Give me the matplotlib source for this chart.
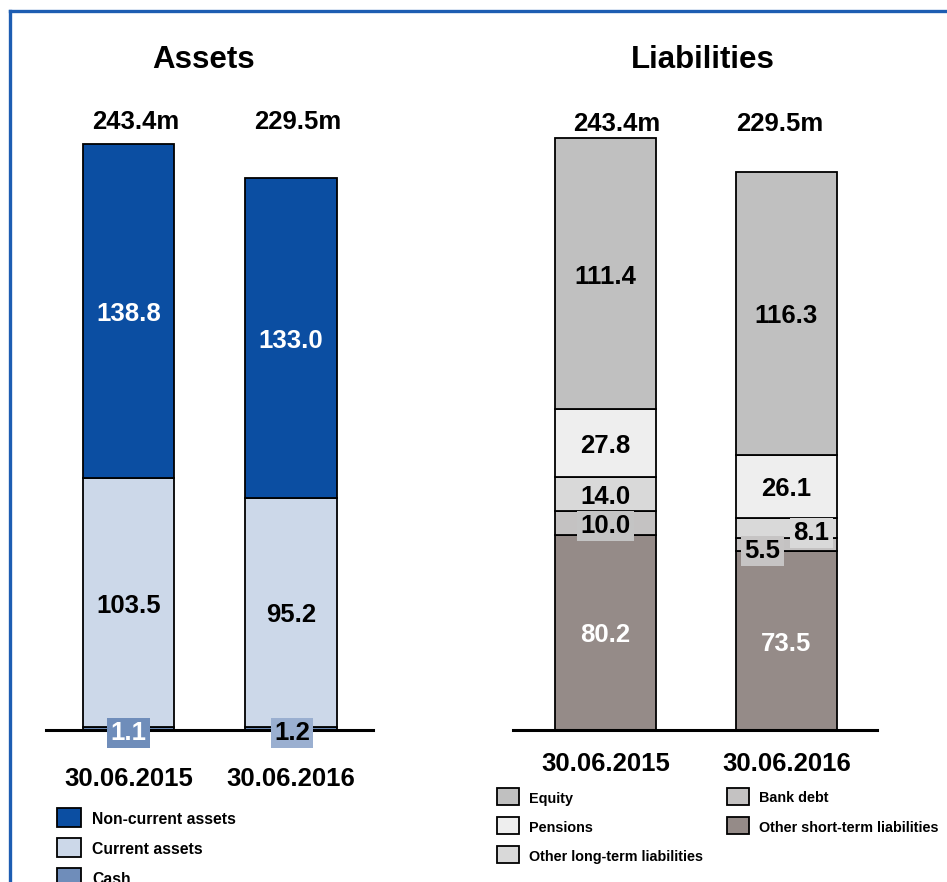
import matplotlib
matplotlib.use("Agg")
import matplotlib.pyplot as plt
from matplotlib.patches import Rectangle
from matplotlib.lines import Line2D

plt.rcParams["font.family"] = ["Liberation Sans", "DejaVu Sans"]
plt.rcParams["font.weight"] = "bold"

# ----- data ---------------------------------------------------------

dates = ["30.06.2015", "30.06.2016"]

asset_names = ["Cash", "Current assets", "Non-current assets"]
cash = [1.1, 1.2]
current_assets = [103.5, 95.2]
non_current_assets = [138.8, 133.0]

liab_names = ["Other short-term liabilities", "Bank debt",
              "Other long-term liabilities", "Pensions", "Equity"]
other_short_term = [80.2, 73.5]
bank_debt = [10.0, 5.5]
other_long_term = [14.0, 8.1]
pensions = [27.8, 26.1]
equity = [111.4, 116.3]

totals = [243.4, 229.5]

# ----- style --------------------------------------------------------

W, H = 947, 882
asset_colors = ["#6F8DBA", "#CCD8E9", "#0B4EA2"]
liab_colors = ["#958B88", "#C4C2C2", "#D9D9D9", "#EEEEEE", "#C0C0C0"]
VAL_FS = 18.5


def fx(px):
    return px / W


def fy(py):
    return 1 - py / H


fig = plt.figure(figsize=(W / 100, H / 100), dpi=100)

# blue frame (cut off on right and bottom)
fig.add_artist(Line2D([fx(10), fx(10)], [fy(11), 0], color="#1D5DB2", lw=2.4,
                      transform=fig.transFigure))
fig.add_artist(Line2D([fx(10), 1], [fy(11), fy(11)], color="#1D5DB2", lw=2.4,
                      transform=fig.transFigure))


def make_ax(left, right, px_per_unit):
    ax = fig.add_axes([fx(left), fy(730), fx(right - left), 250 * px_per_unit / H])
    ax.set_ylim(0, 250)
    ax.axis("off")
    ax.axhline(0, color="black", lw=2.2, zorder=3, clip_on=False)
    return ax


def stack(ax, series, colors, width):
    x = [0, 1]
    bottom = [0, 0]
    mids = []
    for vals, col in zip(series, colors):
        ax.bar(x, vals, width, bottom=bottom, color=col, edgecolor="black",
               linewidth=1.3, zorder=2)
        mids.append([b + v / 2 for b, v in zip(bottom, vals)])
        bottom = [b + v for b, v in zip(bottom, vals)]
    return mids


def label(ax, x, y, txt, color="black", bg=None, dx=0, dy=0):
    # dx, dy in pixels (dy positive = down); +3 px corrects va="center"
    kw = {}
    if bg is not None:
        kw["bbox"] = dict(boxstyle="square,pad=0.12", fc=bg, ec="none")
    ax.annotate(txt, (x, y), xytext=(dx * 0.72, -(dy + 3) * 0.72),
                textcoords="offset points", ha="center", va="center",
                fontsize=VAL_FS, fontweight="bold", color=color,
                annotation_clip=False, zorder=5, **kw)


# ----- assets -------------------------------------------------------

ax1 = make_ax(46, 373, 2.408)
ax1.set_xlim(-0.508, 1.505)
amids = stack(ax1, [cash, current_assets, non_current_assets], asset_colors, 0.563)

for i in range(2):
    label(ax1, i, amids[2][i], f"{non_current_assets[i]:.1f}", color="white")
    label(ax1, i, amids[1][i], f"{current_assets[i]:.1f}")
label(ax1, 0, 0, f"{cash[0]:.1f}", color="white", bg="#6F8DBA")
label(ax1, 1, 0, f"{cash[1]:.1f}", color="black", bg="#9AAFD0", dx=1)

for i, dx in enumerate([7.5, 7]):
    label(ax1, i, 250, f"{totals[i]:.1f}m", dx=dx, dy=-9)
    label(ax1, i, 0, dates[i], dy=46)

# ----- liabilities --------------------------------------------------

ax2 = make_ax(513, 877, 2.432)
ax2.set_xlim(-0.511, 1.5)
lmids = stack(ax2, [other_short_term, bank_debt, other_long_term, pensions, equity],
              liab_colors, 0.558)

for i in range(2):
    label(ax2, i, lmids[0][i], f"{other_short_term[i]:.1f}", color="white")
    label(ax2, i, lmids[3][i], f"{pensions[i]:.1f}")
    label(ax2, i, lmids[4][i], f"{equity[i]:.1f}")
label(ax2, 0, lmids[2][0], f"{other_long_term[0]:.1f}")
label(ax2, 0, lmids[1][0], f"{bank_debt[0]:.1f}", bg="#C4C4C4")
label(ax2, 1, lmids[2][1], f"{other_long_term[1]:.1f}", bg="#D9D9D9", dx=25, dy=2)
label(ax2, 1, lmids[1][1], f"{bank_debt[1]:.1f}", bg="#C6C4C4", dx=-24, dy=3.5)

for i, dx in enumerate([11.5, -6.5]):
    label(ax2, i, 250, f"{totals[i]:.1f}m", dx=dx, dy=-1)
    label(ax2, i, 0, dates[i], dy=31)

# ----- titles -------------------------------------------------------

fig.text(fx(204), fy(60), "Assets", ha="center", va="center", fontsize=22.5,
         fontweight="bold")
fig.text(fx(703), fy(60), "Liabilities", ha="center", va="center", fontsize=22.5,
         fontweight="bold")

# ----- legends ------------------------------------------------------


def legend_item(x, y, w, h, col, txt, tx, fs):
    fig.add_artist(Rectangle((fx(x), fy(y + h)), fx(w), h / H, facecolor=col,
                             edgecolor="black", lw=1.3, transform=fig.transFigure))
    fig.text(fx(tx), fy(y + h / 2 + 2), txt, ha="left", va="center", fontsize=fs,
             fontweight="bold")


for k, idx in enumerate([2, 1, 0]):
    legend_item(57, 808 + 30 * k, 24, 19, asset_colors[idx], asset_names[idx], 92, 11.3)

right_legend = [(4, 497, 788), (3, 497, 817), (2, 497, 846), (1, 727, 788), (0, 727, 817)]
for idx, x, y in right_legend:
    legend_item(x, y, 22, 17, liab_colors[idx], liab_names[idx], x + 32, 10.4)

fig.savefig("out.png", dpi=100)
